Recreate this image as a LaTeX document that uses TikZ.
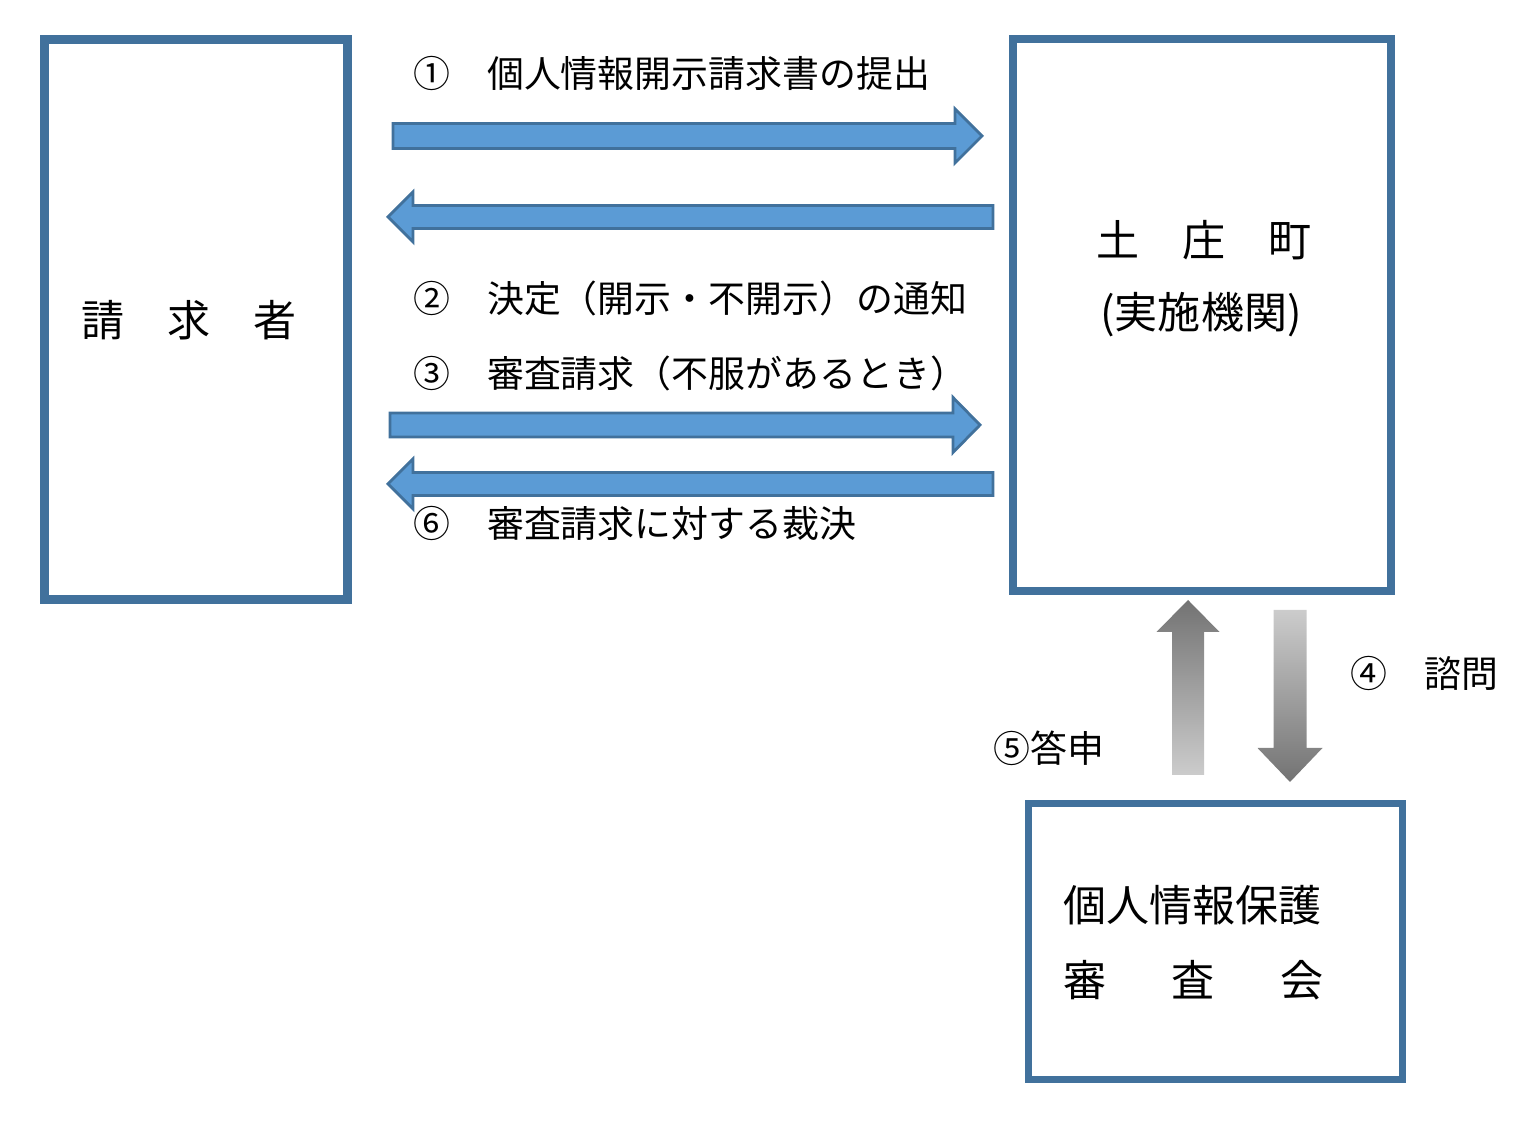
\documentclass[tikz,border=0pt]{standalone}
\usepackage{fontspec}
\setmainfont{Noto Sans CJK JP}
\usepackage{tikz}
\usetikzlibrary{calc}
\pgfdeclarelayer{edgelayer}
\pgfdeclarelayer{nodelayer}
\pgfsetlayers{edgelayer,nodelayer,main}
\definecolor{boxblue}{RGB}{65,113,156}
\definecolor{arrowblue}{RGB}{91,155,213}
\tikzstyle{none}=[inner sep=0pt]
\tikzstyle{party}=[rectangle, draw=boxblue, fill=white]
\tikzstyle{boxtext}=[inner sep=0pt, font=\fontsize{24.5pt}{30pt}\selectfont]
\tikzstyle{label}=[inner sep=0pt, anchor=west, font=\fontsize{21pt}{26pt}\selectfont]
\tikzstyle{bluearrow}=[fill=arrowblue, draw=boxblue, line width=1.6pt, line join=miter]
\tikzstyle{grayup}=[top color=black!55, bottom color=black!20]
\tikzstyle{graydown}=[top color=black!20, bottom color=black!55]
% style, tail, tip, half shaft, half head, head length
\newcommand{\blockarrow}[6]{%
	\path ($(#3)!#6!(#2)$) coordinate (hb);
	\path[#1] ($(#2)!#4!90:(#3)$) -- ($(hb)!#4!90:(#3)$) -- ($(hb)!#5!90:(#3)$) -- (#3)
		-- ($(hb)!#5!-90:(#3)$) -- ($(hb)!#4!-90:(#3)$) -- ($(#2)!#4!-90:(#3)$) -- cycle;
}

\begin{document}
\begin{tikzpicture}
	\useasboundingbox (0,0) rectangle (30.74,22.5);
	\begin{pgfonlayer}{nodelayer}
		\node [style=party, line width=5pt, minimum width=6.06cm, minimum height=11.2cm] (0) at (3.92, 16.11) {};
		\node [style=party, line width=4.5pt, minimum width=7.56cm, minimum height=11.04cm] (1) at (24.04, 16.2) {};
		\node [style=party, line width=3.8pt, minimum width=7.48cm, minimum height=5.52cm] (2) at (24.31, 3.67) {};
		\node [style=boxtext] (3) at (3.78, 16.1) {請　求　者};
		\node [style=boxtext] (4) at (24.08, 17.7) {土　庄　町};
		\node [style=boxtext] (5) at (24.02, 16.2) {(実施機関)};
		\node [style=boxtext, anchor=west] (6) at (21.26, 4.4) {個人情報保護};
		\node [style=boxtext, anchor=west, text width=5.2cm] (7) at (21.26, 2.9) {審\hfill 査\hfill 会};
		\node [style=label] (8) at (8.26, 21.04) {①　個人情報開示請求書の提出};
		\node [style=label] (9) at (8.26, 16.54) {②　決定（開示・不開示）の通知};
		\node [style=label] (10) at (8.26, 15.04) {③　審査請求（不服があるとき）};
		\node [style=label] (11) at (8.26, 12.04) {⑥　審査請求に対する裁決};
		\node [style=label] (12) at (27.0, 9.04) {④　諮問};
		\node [style=label] (13) at (19.86, 7.54) {⑤答申};
	\end{pgfonlayer}
	\begin{pgfonlayer}{edgelayer}
		\coordinate (a1) at (7.86, 19.78);
		\coordinate (b1) at (19.64, 19.78);
		\coordinate (a2) at (19.86, 18.16);
		\coordinate (b2) at (7.76, 18.16);
		\coordinate (a3) at (7.8, 14.0);
		\coordinate (b3) at (19.6, 14.0);
		\coordinate (a4) at (19.86, 12.82);
		\coordinate (b4) at (7.76, 12.82);
		\coordinate (a5) at (23.76, 7.0);
		\coordinate (b5) at (23.76, 10.5);
		\coordinate (a6) at (25.8, 10.3);
		\coordinate (b6) at (25.8, 6.86);
		\blockarrow{bluearrow}{a1}{b1}{0.25cm}{0.54cm}{0.54cm}
		\blockarrow{bluearrow}{a2}{b2}{0.23cm}{0.5cm}{0.5cm}
		\blockarrow{bluearrow}{a3}{b3}{0.24cm}{0.55cm}{0.54cm}
		\blockarrow{bluearrow}{a4}{b4}{0.23cm}{0.5cm}{0.5cm}
		\blockarrow{grayup}{a5}{b5}{0.32cm}{0.63cm}{0.64cm}
		\blockarrow{graydown}{a6}{b6}{0.33cm}{0.65cm}{0.68cm}
	\end{pgfonlayer}
\end{tikzpicture}
\end{document}
